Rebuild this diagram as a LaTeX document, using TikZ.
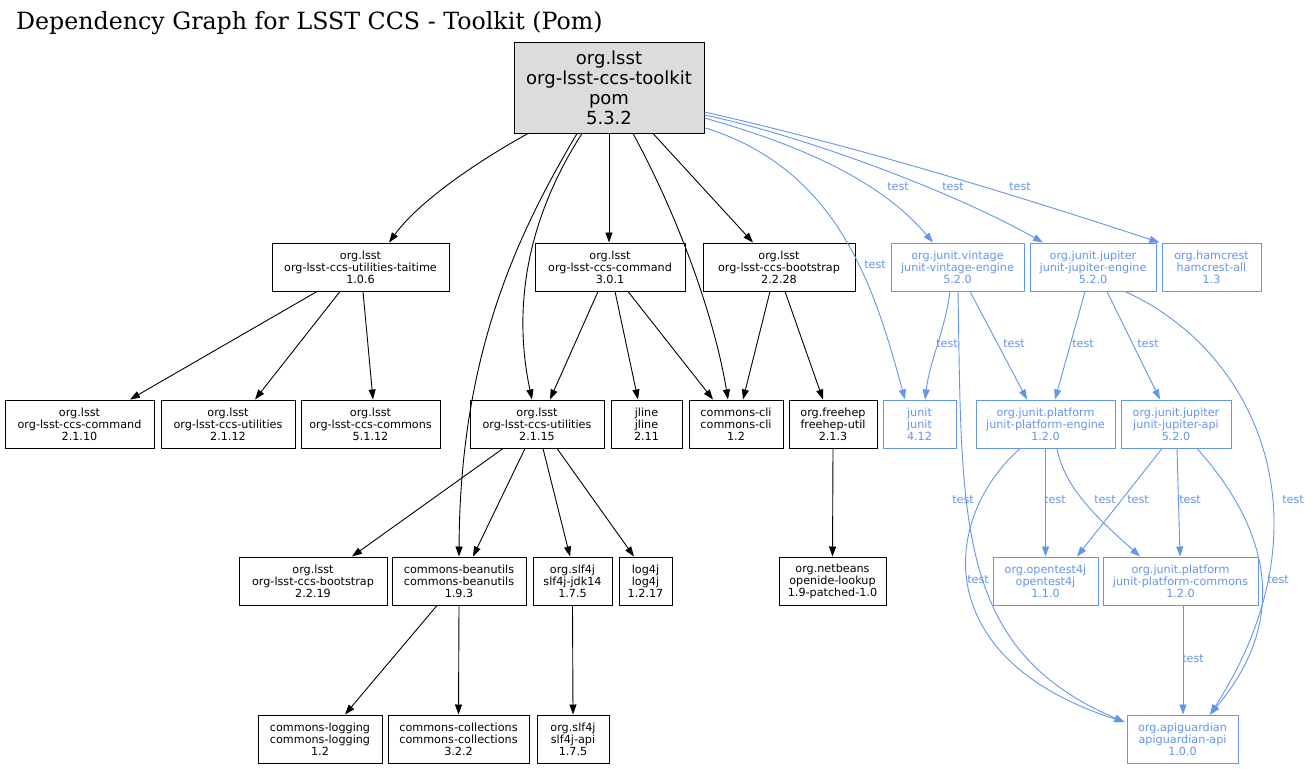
\documentclass[tikz,border=0pt]{standalone}
\usepackage{fontspec}
\usetikzlibrary{arrows.meta,calc}
\newfontfamily\nodefont{DejaVu Sans}
\newfontfamily\titlefont{DejaVu Serif}
\definecolor{cfblue}{HTML}{6495ED}
\definecolor{rootgray}{HTML}{DCDCDC}
\tikzset{
  box/.style={draw, line width=1pt, inner sep=0pt, align=center, minimum height=48pt,
    font=\nodefont\fontsize{11.2}{12}\selectfont},
  bbox/.style={box, draw=cfblue, text=cfblue},
  e/.style={line width=0.9pt, -{Triangle[length=10pt,width=7pt]}},
  be/.style={e, draw=cfblue},
  lab/.style={inner sep=0pt, text=cfblue, font=\nodefont\fontsize{11.2}{12}\selectfont}
}
\begin{document}
\begin{tikzpicture}[x=1pt,y=-1pt]
\fill[white] (0,0) rectangle (1311,768);
\useasboundingbox (0,0) rectangle (1311,768);

\node[anchor=base west, inner sep=0pt, font=\titlefont\fontsize{23.7}{24}\selectfont] (title) at (16,30) {Dependency Graph for LSST CCS - Toolkit (Pom)};

% root
\node[draw, line width=1pt, fill=rootgray, inner sep=0pt, align=center, minimum width=190pt, minimum height=90pt,
  font=\nodefont\fontsize{18}{20}\selectfont] (root) at (609,88) {org.lsst\\org-lsst-ccs-toolkit\\pom\\5.3.2};

% row 2
\node[box, minimum width=177pt] (taitime) at (360.5,267) {org.lsst\\org-lsst-ccs-utilities-taitime\\1.0.6};
\node[box, minimum width=150pt] (cmd301) at (610,267) {org.lsst\\org-lsst-ccs-command\\3.0.1};
\node[box, minimum width=152pt] (boot2228) at (779,267) {org.lsst\\org-lsst-ccs-bootstrap\\2.2.28};
\node[bbox, minimum width=133pt] (vintage) at (957.5,267) {org.junit.vintage\\junit-vintage-engine\\5.2.0};
\node[bbox, minimum width=126pt] (jengine) at (1093,267) {org.junit.jupiter\\junit-jupiter-engine\\5.2.0};
\node[bbox, minimum width=99pt] (hamcrest) at (1211.5,267) {org.hamcrest\\hamcrest-all\\1.3};

% row 3
\node[box, minimum width=149pt] (cmd2110) at (79.5,424) {org.lsst\\org-lsst-ccs-command\\2.1.10};
\node[box, minimum width=134pt] (util2112) at (228,424) {org.lsst\\org-lsst-ccs-utilities\\2.1.12};
\node[box, minimum width=139pt] (commons) at (370.5,424) {org.lsst\\org-lsst-ccs-commons\\5.1.12};
\node[box, minimum width=134pt] (util2115) at (537,424) {org.lsst\\org-lsst-ccs-utilities\\2.1.15};
\node[box, minimum width=71pt] (jline) at (646.5,424) {jline\\jline\\2.11};
\node[box, minimum width=94pt] (cli) at (736,424) {commons-cli\\commons-cli\\1.2};
\node[box, minimum width=88pt] (freehep) at (833,424) {org.freehep\\freehep-util\\2.1.3};
\node[bbox, minimum width=73pt] (junit) at (919.5,424) {junit\\junit\\4.12};
\node[bbox, minimum width=139pt] (pengine) at (1045.5,424) {org.junit.platform\\junit-platform-engine\\1.2.0};
\node[bbox, minimum width=110pt] (japi) at (1176,424) {org.junit.jupiter\\junit-jupiter-api\\5.2.0};

% row 4
\node[box, minimum width=148pt] (boot219) at (313,581) {org.lsst\\org-lsst-ccs-bootstrap\\2.2.19};
\node[box, minimum width=134pt] (beanutils) at (459,581) {commons-beanutils\\commons-beanutils\\1.9.3};
\node[box, minimum width=79pt] (jdk14) at (572.5,581) {org.slf4j\\slf4j-jdk14\\1.7.5};
\node[box, minimum width=53pt] (log4j) at (645.5,581) {log4j\\log4j\\1.2.17};
\node[box, minimum width=107pt] (netbeans) at (832.5,581) {org.netbeans\\openide-lookup\\1.9-patched-1.0};
\node[bbox, minimum width=105pt] (opentest) at (1045.5,581) {org.opentest4j\\opentest4j\\1.1.0};
\node[bbox, minimum width=155pt] (pcommons) at (1180.5,581) {org.junit.platform\\junit-platform-commons\\1.2.0};

% row 5
\node[box, minimum width=124pt] (logging) at (320,739) {commons-logging\\commons-logging\\1.2};
\node[box, minimum width=141pt] (collections) at (458.5,739) {commons-collections\\commons-collections\\3.2.2};
\node[box, minimum width=72pt] (slf4japi) at (573,739) {org.slf4j\\slf4j-api\\1.7.5};
\node[bbox, minimum width=111pt] (apiguardian) at (1182.5,739) {org.apiguardian\\apiguardian-api\\1.0.0};

% black edges
\draw[e] ($(root.south)+(-81,0)$) .. controls (480,160) and (420,200) .. ($(taitime.north)+(28.5,0)$);
\draw[e] ($(root.south)+(-32,0)$) .. controls (520,230) and (460,350) .. (beanutils.north);
\draw[e] ($(root.south)+(-27,0)$) .. controls (520,230) and (515,320) .. ($(util2115.north)+(-5,0)$);
\draw[e] (root.south) -- (cmd301.north -| root.south);
\draw[e] ($(root.south)+(24,0)$) .. controls (680,220) and (715,320) .. ($(cli.north)+(-8,0)$);
\draw[e] ($(root.south)+(44,0)$) -- ($(boot2228.north)+(-26,0)$);
\draw[e] ($(taitime.south)+(-43.5,0)$) -- ($(cmd2110.north)+(50.5,0)$);
\draw[e] ($(taitime.south)+(-20.5,0)$) -- ($(util2112.north)+(27,0)$);
\draw[e] ($(taitime.south)+(2.5,0)$) -- ($(commons.north)+(2.5,0)$);
\draw[e] ($(cmd301.south)+(-12,0)$) -- ($(util2115.north)+(13,0)$);
\draw[e] ($(cmd301.south)+(5,0)$) -- ($(jline.north)+(-8.5,0)$);
\draw[e] ($(cmd301.south)+(18,0)$) -- ($(cli.north)+(-23,0)$);
\draw[e] ($(boot2228.south)+(-9,0)$) -- ($(cli.north)+(7,0)$);
\draw[e] ($(boot2228.south)+(6,0)$) -- ($(freehep.north)+(-10,0)$);
\draw[e] ($(util2115.south)+(-34,0)$) -- ($(boot219.north)+(39,0)$);
\draw[e] ($(util2115.south)+(-12,0)$) -- ($(beanutils.north)+(14,0)$);
\draw[e] ($(util2115.south)+(6,0)$) -- ($(jdk14.north)+(-2.5,0)$);
\draw[e] ($(util2115.south)+(20,0)$) -- ($(log4j.north)+(-11.5,0)$);
\draw[e] (freehep.south) -- (netbeans.north);
\draw[e] ($(beanutils.south)+(-22,0)$) -- ($(logging.north)+(25,0)$);
\draw[e] (beanutils.south) -- (collections.north);
\draw[e] (jdk14.south) -- (slf4japi.north);

% blue edges
\draw[be] ($(root.east)+(1,40)$) .. controls (840,170) and (875,290) .. ($(junit.north)+(-14.5,0)$);
\draw[be] ($(root.east)+(0,30)$) .. controls (800,145) and (880,180) .. ($(vintage.north)+(-24.5,0)$);
\draw[be] ($(root.east)+(0,27)$) .. controls (800,135) and (950,190) .. ($(jengine.north)+(-50,0)$);
\draw[be] ($(root.east)+(0,24)$) .. controls (850,145) and (1000,190) .. ($(hamcrest.north west)+(-2,0)$);
\draw[be] ($(vintage.south)+(-7.5,0)$) .. controls (945,330) and (930,360) .. ($(junit.north)+(5.5,0)$);
\draw[be] ($(vintage.south)+(12.5,0)$) -- ($(pengine.north)+(-18.5,0)$);
\draw[be] ($(vintage.south)+(0.5,0)$) .. controls (962,520) and (955,650) .. ($(apiguardian.west)+(-2,-17)$);
\draw[be] ($(jengine.south)+(-8,0)$) -- ($(pengine.north)+(9.5,0)$);
\draw[be] ($(jengine.south)+(14,0)$) -- ($(japi.north)+(-16,0)$);
\draw[be] ($(jengine.south)+(32,0)$) .. controls (1255,350) and (1335,520) .. ($(apiguardian.north)+(27.5,0)$);
\draw[be] (pengine.south) -- (opentest.north);
\draw[be] ($(pengine.south)+(11.5,0)$) .. controls (1065,490) and (1100,520) .. ($(pcommons.north)+(-40.5,0)$);
\draw[be] ($(pengine.south)+(-25.5,0)$) .. controls (940,520) and (930,660) .. ($(apiguardian.west)+(-2,-17)$);
\draw[be] ($(japi.south)+(-14,0)$) -- ($(opentest.north)+(31.5,0)$);
\draw[be] ($(japi.south)+(1,0)$) -- ($(pcommons.north)+(-0.5,0)$);
\draw[be] ($(japi.south)+(21,0)$) .. controls (1270,530) and (1290,620) .. ($(apiguardian.north)+(27.5,0)$);
\draw[be] ($(pcommons.south)+(2.5,0)$) -- ($(apiguardian.north)+(0.5,0)$);

% labels
\node[lab] (l23) at (875,265) {test};
\node[lab] (l24) at (898,187) {test};
\node[lab] (l25) at (953,187) {test};
\node[lab] (l26) at (1020,187) {test};
\node[lab] (l27) at (947,344) {test};
\node[lab] (l28) at (1014,344) {test};
\node[lab] (l29) at (963,500) {test};
\node[lab] (l30) at (1083,344) {test};
\node[lab] (l31) at (1148,344) {test};
\node[lab] (l32) at (1293,500) {test};
\node[lab] (l33) at (1055,500) {test};
\node[lab] (l34) at (1105,500) {test};
\node[lab] (l35) at (978,580) {test};
\node[lab] (l36) at (1138,500) {test};
\node[lab] (l37) at (1190,500) {test};
\node[lab] (l38) at (1278,580) {test};
\node[lab] (l39) at (1193,659) {test};
\end{tikzpicture}
\end{document}
